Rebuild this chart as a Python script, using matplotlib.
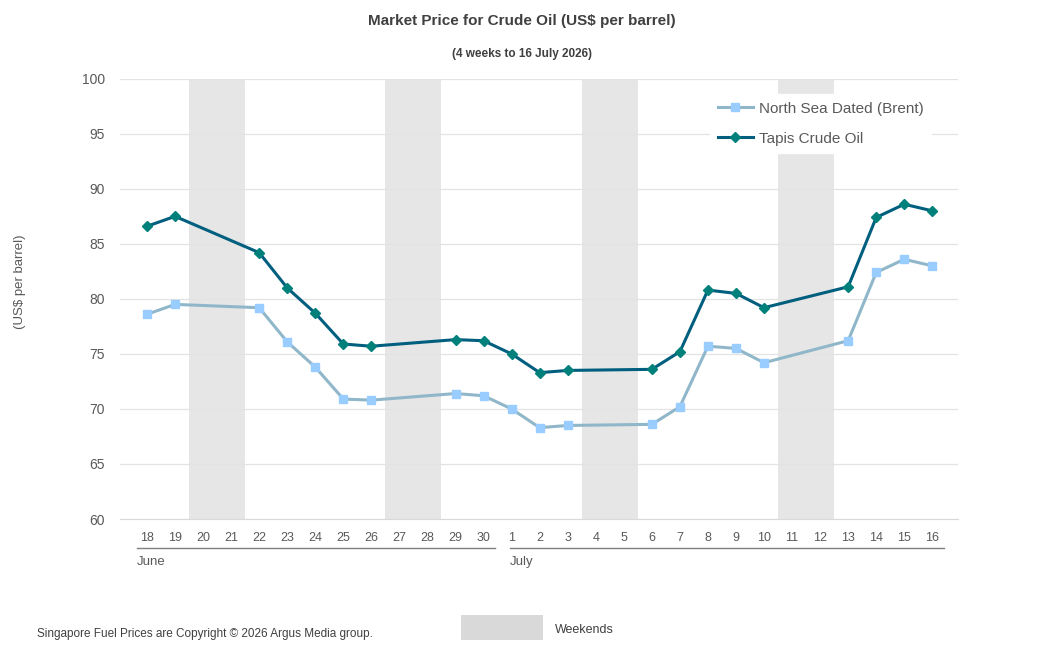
import numpy as np
import matplotlib.pyplot as plt
from matplotlib.transforms import blended_transform_factory

plt.rcParams['font.family'] = ['Liberation Sans', 'DejaVu Sans']

# Day labels, June 18 -> July 16
days = ['18', '19', '20', '21', '22', '23', '24', '25', '26', '27', '28', '29', '30',
        '1', '2', '3', '4', '5', '6', '7', '8', '9', '10', '11', '12', '13', '14', '15', '16']
weekends = [('20', '21'), ('27', '28'), ('4', '5'), ('11', '12')]

# None = weekend (no price)
brent = [78.6, 79.5, None, None, 79.2, 76.1, 73.8, 70.9, 70.8, None, None, 71.4, 71.2,
         70.0, 68.3, 68.5, None, None, 68.6, 70.2, 75.7, 75.5, 74.2, None, None, 76.2, 82.4, 83.6, 83.0]
tapis = [86.6, 87.5, None, None, 84.2, 81.0, 78.7, 75.9, 75.7, None, None, 76.3, 76.2,
         75.0, 73.3, 73.5, None, None, 73.6, 75.2, 80.8, 80.5, 79.2, None, None, 81.1, 87.4, 88.6, 88.0]

txt = '#595959'

fig = plt.figure(figsize=(10.44, 6.62), dpi=100)
ax = fig.add_axes([0.115, 0.216, 0.803, 0.665])

x = np.arange(len(days))
for a, b in weekends:
    ax.axvspan(days.index(a) - 0.5, days.index(b) + 0.5, color='#e6e6e6', lw=0, zorder=0)

def valid(series):
    idx = [i for i, v in enumerate(series) if v is not None]
    return x[idx], [series[i] for i in idx]

bx, by = valid(brent)
tx, ty = valid(tapis)
ax.plot(bx, by, color='#8fb7c9', lw=2.2, marker='s', ms=5.5, mfc='#99ccff', mec='#99ccff',
        label='North Sea Dated (Brent)', zorder=3)
ax.plot(tx, ty, color='#005f7f', lw=2.2, marker='D', ms=5.5, mfc='#00807a', mec='#00807a',
        label='Tapis Crude Oil', zorder=4)

ax.set_ylim(60, 100)
ax.set_yticks(range(60, 101, 5))
ax.set_xlim(-0.96, 28.93)
ax.set_xticks(x)
ax.set_xticklabels(days)
ax.grid(axis='y', color='#e3e3e3', lw=0.9, zorder=1)
ax.set_axisbelow(True)
for s in ['top', 'right', 'left']:
    ax.spines[s].set_visible(False)
ax.spines['bottom'].set_color('#d9d9d9')
ax.tick_params(length=0, colors=txt, labelsize=9, pad=9)
ax.tick_params(axis='y', labelsize=10, pad=11)

# month groups under the axis
tr = blended_transform_factory(ax.transData, ax.transAxes)
for start, end, name in [(-0.36, 12.41, 'June'), (12.95, 28.42, 'July')]:
    ax.plot([start, end], [-0.066, -0.066], color='#7f7f7f', lw=1, transform=tr, clip_on=False)
    ax.text(start, -0.098, name, transform=tr, color=txt, fontsize=9.5, va='center', ha='left')

leg = ax.legend(loc='upper right', bbox_to_anchor=(0.977, 0.983), frameon=True, fontsize=11,
                labelcolor=txt, handlelength=2.3, handletextpad=0.4, labelspacing=1.05,
                borderpad=0.5, edgecolor='white', framealpha=1, fancybox=False)

fig.text(0.5, 0.968, 'Market Price for Crude Oil (US$ per barrel)', ha='center', va='center',
         fontsize=11, fontweight='bold', color='#404040')
fig.text(0.5, 0.918, '(4 weeks to 16 July 2026)', ha='center', va='center',
         fontsize=8.5, fontweight='bold', color='#404040')
fig.text(0.019, 0.574, '(US$ per barrel)', rotation=90, ha='center', va='center', fontsize=9.5, color=txt)
fig.text(0.035, 0.042, 'Singapore Fuel Prices are Copyright © 2026 Argus Media group.',
         ha='left', va='center', fontsize=8.5, color='#404040')
fig.patches.append(plt.Rectangle((0.442, 0.033), 0.078, 0.038, transform=fig.transFigure,
                                 color='#d9d9d9', lw=0))
fig.text(0.532, 0.049, 'Weekends', ha='left', va='center', fontsize=9, color='#404040')

fig.savefig('out.png', dpi=100)
